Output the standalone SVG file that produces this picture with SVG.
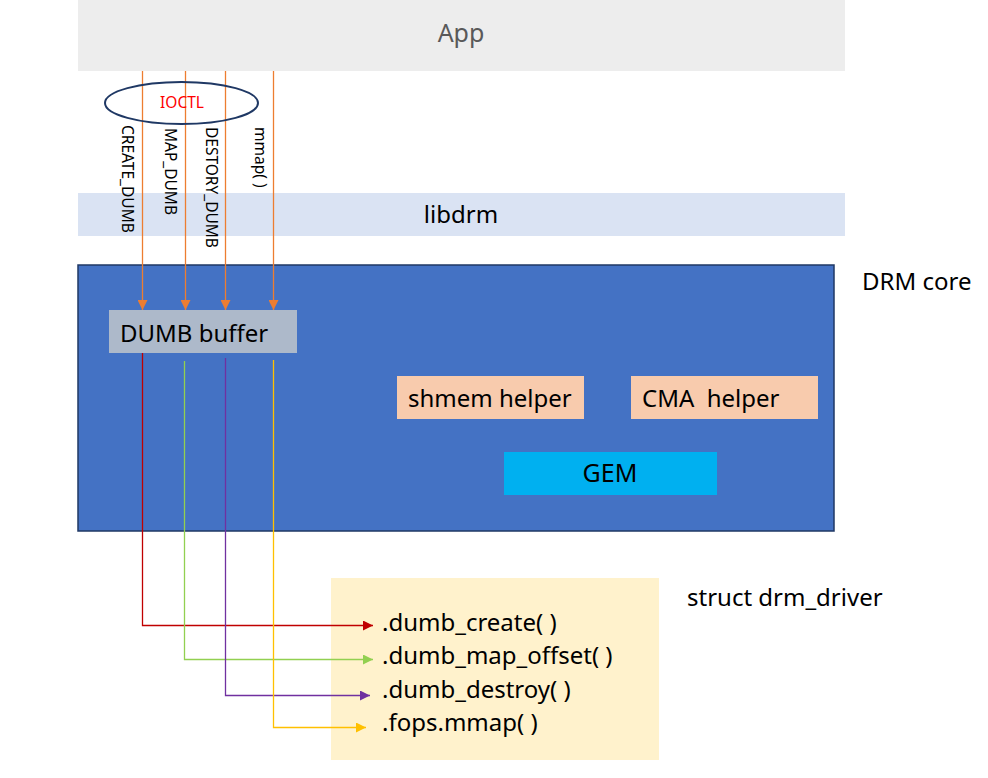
<svg xmlns="http://www.w3.org/2000/svg" width="988" height="778" viewBox="0 0 988 778">
<defs>
<style>
text{font-family:"Noto Sans","Open Sans","DejaVu Sans",sans-serif;}
.lbl{font-size:24px;fill:#000;}
.vl{font-size:15.5px;fill:#000;}
</style>
<marker id="ao" viewBox="0 0 10 10" refX="10" refY="5" markerWidth="10" markerHeight="10" markerUnits="userSpaceOnUse" orient="auto"><path d="M0,0 L10,5 L0,10 z" fill="#ed7d31"/></marker>
<marker id="ar" viewBox="0 0 10 10" refX="10" refY="5" markerWidth="10" markerHeight="10" markerUnits="userSpaceOnUse" orient="auto"><path d="M0,0 L10,5 L0,10 z" fill="#c00000"/></marker>
<marker id="ag" viewBox="0 0 10 10" refX="10" refY="5" markerWidth="10" markerHeight="10" markerUnits="userSpaceOnUse" orient="auto"><path d="M0,0 L10,5 L0,10 z" fill="#92d050"/></marker>
<marker id="ap" viewBox="0 0 10 10" refX="10" refY="5" markerWidth="10" markerHeight="10" markerUnits="userSpaceOnUse" orient="auto"><path d="M0,0 L10,5 L0,10 z" fill="#7030a0"/></marker>
<marker id="ay" viewBox="0 0 10 10" refX="10" refY="5" markerWidth="10" markerHeight="10" markerUnits="userSpaceOnUse" orient="auto"><path d="M0,0 L10,5 L0,10 z" fill="#ffc000"/></marker>
</defs>
<rect width="988" height="778" fill="#fff"/>
<g id="app"><rect x="78" y="0" width="767" height="71" fill="#ededed"/><text x="461" y="42" font-size="25" fill="#595959" text-anchor="middle">App</text></g>
<g id="libdrm"><rect x="78" y="193" width="767" height="43" fill="#dae3f3"/><text x="461" y="223" class="lbl" text-anchor="middle">libdrm</text></g>
<g id="drmcore"><rect x="78" y="265" width="756" height="266" fill="#4472c4" stroke="#1f3864" stroke-width="1.5"/><text x="862" y="290" class="lbl">DRM core</text></g>
<g id="dumb"><rect x="109" y="310" width="188" height="43" fill="#adb9ca"/><text x="120" y="342" class="lbl">DUMB buffer</text></g>
<g id="shmem"><rect x="397" y="376" width="187" height="43" fill="#f8cbad"/><text x="408" y="407" class="lbl">shmem helper</text></g>
<g id="cma"><rect x="631" y="376" width="187" height="43" fill="#f8cbad"/><text x="642" y="407" class="lbl" xml:space="preserve">CMA  helper</text></g>
<g id="gem"><rect x="504" y="452" width="213" height="43" fill="#00b0f0"/><text x="610" y="482" font-size="25" fill="#000" text-anchor="middle">GEM</text></g>
<g id="drv"><rect x="331" y="578" width="328" height="182" fill="#fff2cc"/><text x="687" y="606" class="lbl">struct drm_driver</text>
<text x="382" y="631" class="lbl">.dumb_create( )</text>
<text x="382" y="664" class="lbl">.dumb_map_offset( )</text>
<text x="382" y="698" class="lbl">.dumb_destroy( )</text>
<text x="382" y="731" class="lbl">.fops.mmap( )</text></g>
<g id="connectors" fill="none" stroke-width="1.3">
<line x1="142.5" y1="71" x2="142.5" y2="310" stroke="#ed7d31" marker-end="url(#ao)"/>
<line x1="185.5" y1="71" x2="185.5" y2="310" stroke="#ed7d31" marker-end="url(#ao)"/>
<line x1="225.5" y1="71" x2="225.5" y2="310" stroke="#ed7d31" marker-end="url(#ao)"/>
<line x1="273.5" y1="71" x2="273.5" y2="310" stroke="#ed7d31" marker-end="url(#ao)"/>
<polyline points="142.5,353 142.5,625.5 373,625.5" stroke="#c00000" marker-end="url(#ar)"/>
<polyline points="184.5,361 184.5,659.5 373,659.5" stroke="#92d050" marker-end="url(#ag)"/>
<polyline points="225.5,358 225.5,695.5 370,695.5" stroke="#7030a0" marker-end="url(#ap)"/>
<polyline points="273.5,360 273.5,727.5 366,727.5" stroke="#ffc000" marker-end="url(#ay)"/>
</g>
<g id="ioctl"><ellipse cx="181.5" cy="103" rx="76.5" ry="21" fill="none" stroke="#1f3864" stroke-width="2"/><text x="182" y="108" font-size="15.5" fill="#ff0000" text-anchor="middle">IOCTL</text></g>
<g id="vlabels">
<text class="vl" transform="translate(122,125) rotate(90)">CREATE_DUMB</text>
<text class="vl" transform="translate(165,128) rotate(90)">MAP_DUMB</text>
<text class="vl" transform="translate(206,127) rotate(90)">DESTORY_DUMB</text>
<text class="vl" transform="translate(255,127) rotate(90)">mmap( )</text>
</g>
</svg>
